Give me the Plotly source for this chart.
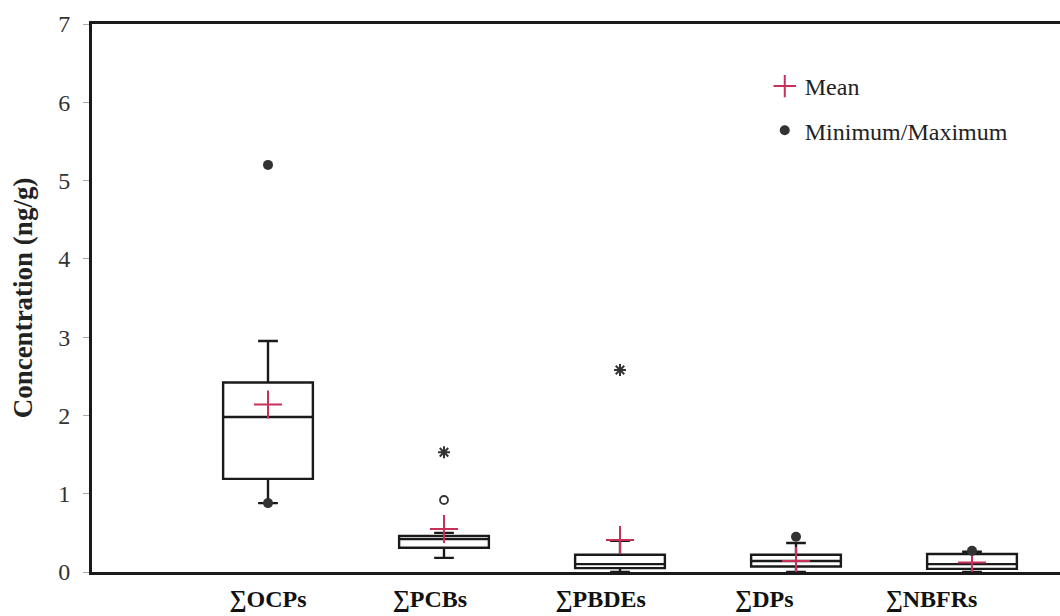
import plotly.graph_objects as go

categories = ["∑OCPs", "∑PCBs", "∑PBDEs", "∑DPs", "∑NBFRs"]
q1 = [1.19, 0.31, 0.05, 0.07, 0.04]
median = [1.98, 0.42, 0.10, 0.14, 0.10]
q3 = [2.42, 0.46, 0.22, 0.22, 0.23]
lower_whisker = [0.88, 0.18, 0.00, 0.00, 0.00]
upper_whisker = [2.95, 0.50, 0.40, 0.37, 0.26]
mean = [2.14, 0.55, 0.41, 0.14, 0.12]

# min/max dots (category index, value)
minmax_cat = [0, 0, 3, 4]
minmax_val = [5.20, 0.88, 0.45, 0.27]
# extreme outliers (asterisk)
extreme_cat = [1, 2]
extreme_val = [1.53, 2.58]
# mild outliers (open circle)
outlier_cat = [1]
outlier_val = [0.92]

label_offset = [0.0, -0.08, -0.11, -0.18, -0.23]

xs = list(range(len(categories)))
serif = "Liberation Serif, Times New Roman, serif"

fig = go.Figure()
fig.add_trace(go.Box(
    x=xs, q1=q1, median=median, q3=q3,
    lowerfence=lower_whisker, upperfence=upper_whisker,
    width=0.51, whiskerwidth=0.22, boxpoints=False,
    line=dict(color="#1a1a1a", width=2.4), fillcolor="white",
    showlegend=False, hoverinfo="skip",
))
fig.add_trace(go.Scatter(
    x=outlier_cat, y=outlier_val, mode="markers", showlegend=False,
    marker=dict(symbol="circle-open", size=8, color="#333", line=dict(width=1.8)),
))
fig.add_trace(go.Scatter(
    x=extreme_cat, y=extreme_val, mode="markers", showlegend=False,
    marker=dict(symbol="asterisk-open", size=10, color="#333", line=dict(width=2, color="#333")),
))
fig.add_trace(go.Scatter(
    x=xs, y=mean, mode="markers", name="Mean", legendgroup="a",
    marker=dict(symbol="cross-thin-open", size=20, color="#c8305a", line=dict(width=2, color="#c8305a")),
))
fig.add_trace(go.Scatter(
    x=minmax_cat, y=minmax_val, mode="markers", name="Minimum/Maximum", legendgroup="b",
    marker=dict(symbol="circle", size=10, color="#333"),
))

fig.update_layout(
    width=1060, height=616,
    margin=dict(l=92, r=0, t=24, b=44),
    paper_bgcolor="white", plot_bgcolor="white",
    font=dict(family=serif, color="#222", size=24),
    legend=dict(x=0.695, y=0.927, xanchor="left", yanchor="top",
                bgcolor="rgba(0,0,0,0)", font=dict(size=24, family=serif, color="#222"),
                tracegroupgap=10, itemwidth=30, traceorder="grouped"),
    xaxis=dict(
        range=[-1, 4.5], showgrid=False, zeroline=False, automargin=False,
        tickvals=[x + o for x, o in zip(xs, label_offset)], ticktext=categories,
        tickfont=dict(family=serif, size=24, color="#111", weight="bold"),
        showline=True, linecolor="#1a1a1a", linewidth=3, mirror=True,
        ticks="", ticklabelstandoff=3,
    ),
    yaxis=dict(
        range=[0, 7], dtick=1, showgrid=False, zeroline=False, automargin=False,
        showline=True, linecolor="#1a1a1a", linewidth=3,
        ticks="outside", ticklen=6, tickcolor="#aaa", tickwidth=1,
        tickfont=dict(family=serif, size=24, color="#333"),
        ticklabelstandoff=8,
        title=dict(text="<b>Concentration (ng/g)</b>", font=dict(family=serif, size=27, color="#222"), standoff=18),
    ),
)
fig.write_html("out.html")
